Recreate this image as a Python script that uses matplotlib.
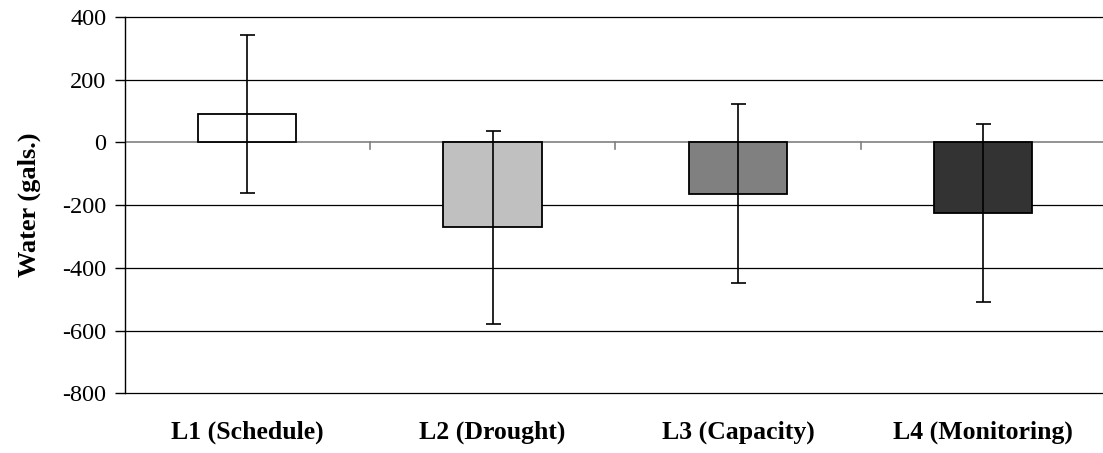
import numpy as np
import matplotlib.pyplot as plt

# water use change per treatment group, with error bars
groups = ['L1 (Schedule)', 'L2 (Drought)', 'L3 (Capacity)', 'L4 (Monitoring)']
means = [92, -270, -164, -225]
errors = [252, 308, 285, 283]
colors = ['white', '#c0c0c0', '#808080', '#333333']
yticks = [-800, -600, -400, -200, 0, 200, 400]

plt.rcParams['font.family'] = ['Liberation Serif', 'DejaVu Serif']

fig = plt.figure(figsize=(11.03, 4.53), dpi=100)
ax = fig.add_axes([0.1129, 0.1318, 0.8898, 0.8307])

x = np.arange(len(groups))
for yv in yticks:
    if yv == 0:
        continue
    ax.axhline(yv, color='black', lw=0.9, zorder=0, clip_on=False)

ax.bar(x, means, width=0.40, color=colors, edgecolor='black', linewidth=1.3, zorder=2)
ax.errorbar(x, means, yerr=errors, fmt='none', ecolor='black', elinewidth=1.2,
            capsize=5.4, capthick=1.2, zorder=3)

# category axis sits at zero
ax.axhline(0, color='#808080', lw=1.2, zorder=1)
for xb in x[:-1] + 0.5:
    ax.plot([xb, xb], [0, -22], color='#808080', lw=1.2, zorder=1)

ax.set_xlim(-0.5, len(groups) - 0.5)
ax.set_ylim(-800, 400)
ax.set_yticks(yticks)
ax.set_yticklabels([str(v) for v in yticks], fontsize=17.5)
ax.set_xticks(x)
ax.set_xticklabels(groups, fontsize=18.5, fontweight='bold')
ax.tick_params(axis='x', length=0, pad=20)
ax.tick_params(axis='y', direction='out', length=7, width=1, pad=6)
ax.set_ylabel('Water (gals.)', fontsize=19, fontweight='bold')
ax.yaxis.set_label_coords(-0.085, 0.5)

for side in ['top', 'right', 'bottom']:
    ax.spines[side].set_visible(False)
ax.spines['left'].set_linewidth(1)

fig.savefig('out.png', dpi=100)
